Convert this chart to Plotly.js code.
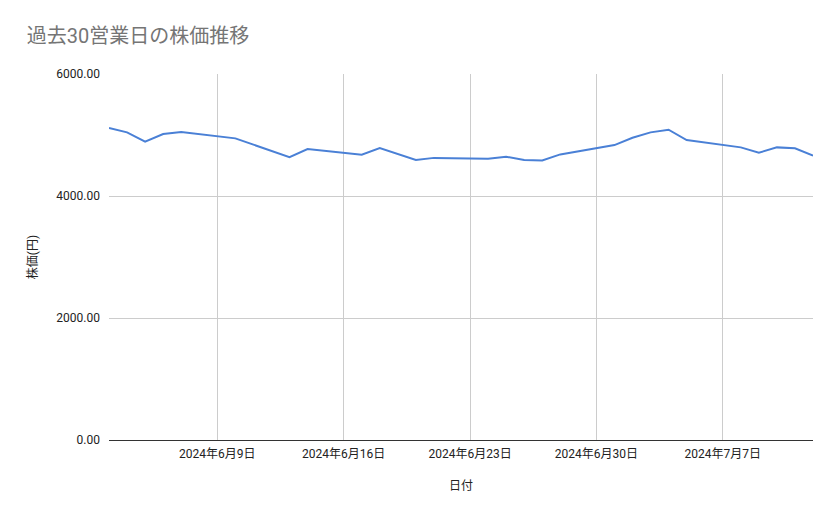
<!DOCTYPE html>
<html>
<head>
<meta charset="utf-8">
<script src="https://cdn.plot.ly/plotly-3.0.1.min.js"></script>
<style>
  html, body { margin: 0; padding: 0; background: #fff; }
  #chart { width: 839px; height: 519px; }
</style>
</head>
<body>
<div id="chart"></div>
<script>
// 過去30営業日 (土日は除く)
var dates = [
  '2024-06-03', '2024-06-04', '2024-06-05', '2024-06-06', '2024-06-07',
  '2024-06-10', '2024-06-11', '2024-06-12', '2024-06-13', '2024-06-14',
  '2024-06-17', '2024-06-18', '2024-06-19', '2024-06-20', '2024-06-21',
  '2024-06-24', '2024-06-25', '2024-06-26', '2024-06-27', '2024-06-28',
  '2024-07-01', '2024-07-02', '2024-07-03', '2024-07-04', '2024-07-05',
  '2024-07-08', '2024-07-09', '2024-07-10', '2024-07-11', '2024-07-12'
];
var prices = [
  5114, 5043, 4890, 5016, 5049,
  4945, 4842, 4740, 4638, 4770,
  4677, 4786, 4688, 4589, 4625,
  4611, 4644, 4589, 4583, 4682,
  4835, 4955, 5043, 5087, 4917,
  4797, 4709, 4797, 4781, 4661
];
var xTickVals = ['2024-06-09', '2024-06-16', '2024-06-23', '2024-06-30', '2024-07-07'];
var xTickText = ['2024年6月9日', '2024年6月16日', '2024年6月23日', '2024年6月30日', '2024年7月7日'];
var yTickVals = [0, 2000, 4000, 6000];

var fontFamily = "Roboto, 'Noto Sans CJK JP', sans-serif";

var trace = {
  x: dates,
  y: prices,
  type: 'scatter',
  mode: 'lines',
  line: { color: '#4a80d6', width: 2 },
  hoverinfo: 'x+y'
};

var layout = {
  width: 839,
  height: 519,
  margin: { l: 109, r: 26, t: 74, b: 79 },
  paper_bgcolor: '#ffffff',
  plot_bgcolor: '#ffffff',
  font: { family: fontFamily, size: 12, color: '#222222' },
  showlegend: false,
  title: {
    text: '過去30営業日の株価推移',
    x: 0.032,
    xanchor: 'left',
    y: 0.93,
    yanchor: 'middle',
    font: { family: fontFamily, size: 20, color: '#757575' }
  },
  xaxis: {
    type: 'date',
    range: ['2024-06-03', '2024-07-12'],
    tickvals: xTickVals,
    ticktext: xTickText,
    showgrid: true,
    gridcolor: '#cccccc',
    gridwidth: 1,
    showline: true,
    linecolor: '#333333',
    linewidth: 1,
    ticks: '',
    ticklabelstandoff: 3,
    tickfont: { size: 12, color: '#222222' },
    title: { text: '日付', standoff: 21, font: { size: 12, color: '#222222' } },
    zeroline: false
  },
  yaxis: {
    range: [0, 6000],
    tickvals: yTickVals,
    tickformat: '.2f',
    showgrid: true,
    gridcolor: '#cccccc',
    gridwidth: 1,
    showline: false,
    zeroline: false,
    ticks: '',
    ticklabelstandoff: 8,
    tickfont: { size: 12, color: '#222222' },
    title: { text: '株価(円)', standoff: 16, font: { size: 12, color: '#222222' } }
  }
};

Plotly.newPlot('chart', [trace], layout, { displayModeBar: false, staticPlot: true });
</script>
</body>
</html>
